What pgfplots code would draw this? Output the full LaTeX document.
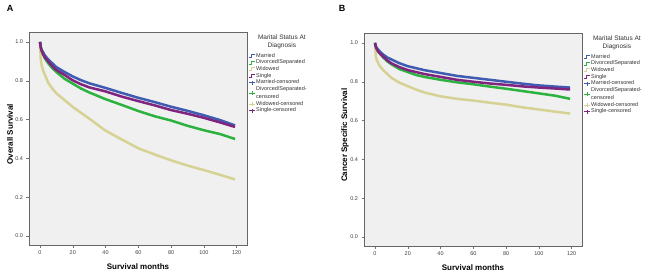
\documentclass[border=0pt]{standalone}
\usepackage{fontspec}
\setmainfont{Liberation Sans}
\usepackage{pgfplots}
\usepackage{pgfplotstable}
\pgfplotsset{compat=1.18}

\definecolor{kmblue}{RGB}{64,92,178}
\definecolor{kmgreen}{RGB}{44,178,62}
\definecolor{kmyellow}{RGB}{214,210,148}
\definecolor{kmpurple}{RGB}{128,36,128}
\definecolor{bgc}{RGB}{240,240,240}

% Panel A: overall survival
\pgfplotstableread{
t     mar    div    wid    sin
0     1.000  1.000  1.000  1.000
0.5   0.975  0.970  0.910  0.970
1     0.960  0.955  0.880  0.955
2     0.945  0.935  0.850  0.935
3     0.930  0.915  0.830  0.920
5     0.910  0.890  0.790  0.900
7.5   0.890  0.865  0.760  0.875
10    0.870  0.845  0.735  0.855
15    0.845  0.810  0.700  0.830
20    0.822  0.785  0.665  0.802
25    0.803  0.760  0.635  0.782
30    0.787  0.740  0.605  0.766
40    0.763  0.705  0.543  0.745
50    0.737  0.675  0.497  0.718
60    0.712  0.644  0.452  0.695
70    0.690  0.617  0.420  0.673
80    0.666  0.595  0.390  0.649
90    0.645  0.568  0.363  0.630
100   0.622  0.545  0.340  0.609
110   0.597  0.525  0.315  0.585
119   0.570  0.500  0.292  0.562
}\tabA

% Panel B: cancer specific survival
\pgfplotstableread{
t     mar    div    wid    sin
0     1.000  1.000  1.000  1.000
0.5   0.985  0.980  0.930  0.980
1     0.975  0.970  0.915  0.970
2     0.965  0.955  0.895  0.955
3     0.955  0.945  0.880  0.945
5     0.940  0.925  0.860  0.930
7.5   0.925  0.905  0.840  0.910
10    0.915  0.890  0.820  0.895
15    0.895  0.865  0.795  0.875
20    0.880  0.850  0.777  0.860
25    0.870  0.835  0.760  0.850
30    0.860  0.825  0.745  0.840
40    0.845  0.810  0.725  0.825
50    0.830  0.797  0.712  0.810
60    0.820  0.787  0.703  0.800
70    0.810  0.775  0.692  0.791
80    0.800  0.764  0.682  0.784
90    0.790  0.752  0.668  0.776
100   0.781  0.740  0.657  0.770
110   0.775  0.728  0.646  0.765
119   0.770  0.712  0.636  0.760
}\tabB

\pgfplotsset{
  kmax/.style={
    scale only axis, width=218pt, height=213pt,
    xmin=-6.7, xmax=126.3, ymin=-0.046, ymax=1.051,
    axis background/.style={fill=bgc},
    axis line style={draw=black!60, line width=0.8pt},
    xtick={0,20,...,120}, ytick={0,0.2,0.4,0.6,0.8,1.0},
    tick align=outside, major tick length=2.5pt,
    tick style={draw=black!55, line width=0.4pt},
    xtick pos=bottom, ytick pos=left,
    yticklabel style={/pgf/number format/.cd, fixed, fixed zerofill, precision=1},
    /pgf/number format/assume math mode=true,
    ticklabel style={font=\fontsize{5.5}{6}\selectfont, text=black!75},
    xlabel style={at={(axis description cs:0.5,-0.1)}, anchor=center, font=\fontsize{8}{9}\selectfont\bfseries},
    ylabel style={at={(axis description cs:-0.087,0.52)}, anchor=center, font=\fontsize{8}{9}\selectfont\bfseries},
    xlabel={Survival months},
    clip=false,
    legend cell align=left,
    legend style={at={(1.006,0.905)}, anchor=north west, draw=none, fill=none,
      inner sep=0pt, font=\fontsize{5.5}{6}\selectfont,
      nodes={inner sep=0.6pt, text=black!80}},
  },
  km/.style={sharp plot, line width=2.5pt, line join=round, forget plot},
  stepimg/.style={legend image code/.code={
      \draw[draw=#1, line width=0.6pt] (0pt,-1.5pt) -- (2pt,-1.5pt) -- (2pt,1.5pt) -- (6.5pt,1.5pt);}},
  censimg/.style={legend image code/.code={
      \draw[draw=#1, line width=0.6pt] (0pt,0pt) -- (6.5pt,0pt);
      \draw[draw=#1, line width=0.6pt] (3.2pt,-2pt) -- (3.2pt,2pt);}},
}

\newcommand{\kmlegend}{%
  \addlegendimage{stepimg=kmblue}\addlegendentry{Married}
  \addlegendimage{stepimg=kmgreen}\addlegendentry{Divorced/Separated}
  \addlegendimage{stepimg=kmyellow}\addlegendentry{Widowed}
  \addlegendimage{stepimg=kmpurple}\addlegendentry{Single}
  \addlegendimage{censimg=kmblue}\addlegendentry{Married-censored}
  \addlegendimage{censimg=kmgreen}\addlegendentry{\shortstack[l]{Divorced/Separated-\\censored}}
  \addlegendimage{censimg=kmyellow}\addlegendentry{Widowed-censored}
  \addlegendimage{censimg=kmpurple}\addlegendentry{Single-censored}
  \node[align=center, font=\fontsize{6.5}{7.5}\selectfont, text=black!80]
    at (rel axis cs:1.16,0.953) {Marital Status At\\Diagnosis};
}

\begin{document}
\begin{tikzpicture}
\useasboundingbox[fill=white] (0pt,0pt) rectangle (650pt,276pt);
\node[font=\fontsize{9}{10}\selectfont\bfseries] at (10pt,268pt) {A};
\node[font=\fontsize{9}{10}\selectfont\bfseries] at (342pt,268pt) {B};

\begin{axis}[kmax, at={(29pt,31pt)}, anchor=south west, ylabel={Overall Survival}]
  \addplot[km, kmyellow] table[x=t, y=wid] {\tabA};
  \addplot[km, kmgreen]  table[x=t, y=div] {\tabA};
  \addplot[km, kmblue]   table[x=t, y=mar] {\tabA};
  \addplot[km, kmpurple] table[x=t, y=sin] {\tabA};
  \kmlegend
\end{axis}

\begin{axis}[kmax, at={(364pt,30pt)}, anchor=south west, ylabel={Cancer Specific Survival}]
  \addplot[km, kmyellow] table[x=t, y=wid] {\tabB};
  \addplot[km, kmgreen]  table[x=t, y=div] {\tabB};
  \addplot[km, kmblue]   table[x=t, y=mar] {\tabB};
  \addplot[km, kmpurple] table[x=t, y=sin] {\tabB};
  \kmlegend
\end{axis}
\end{tikzpicture}
\end{document}
